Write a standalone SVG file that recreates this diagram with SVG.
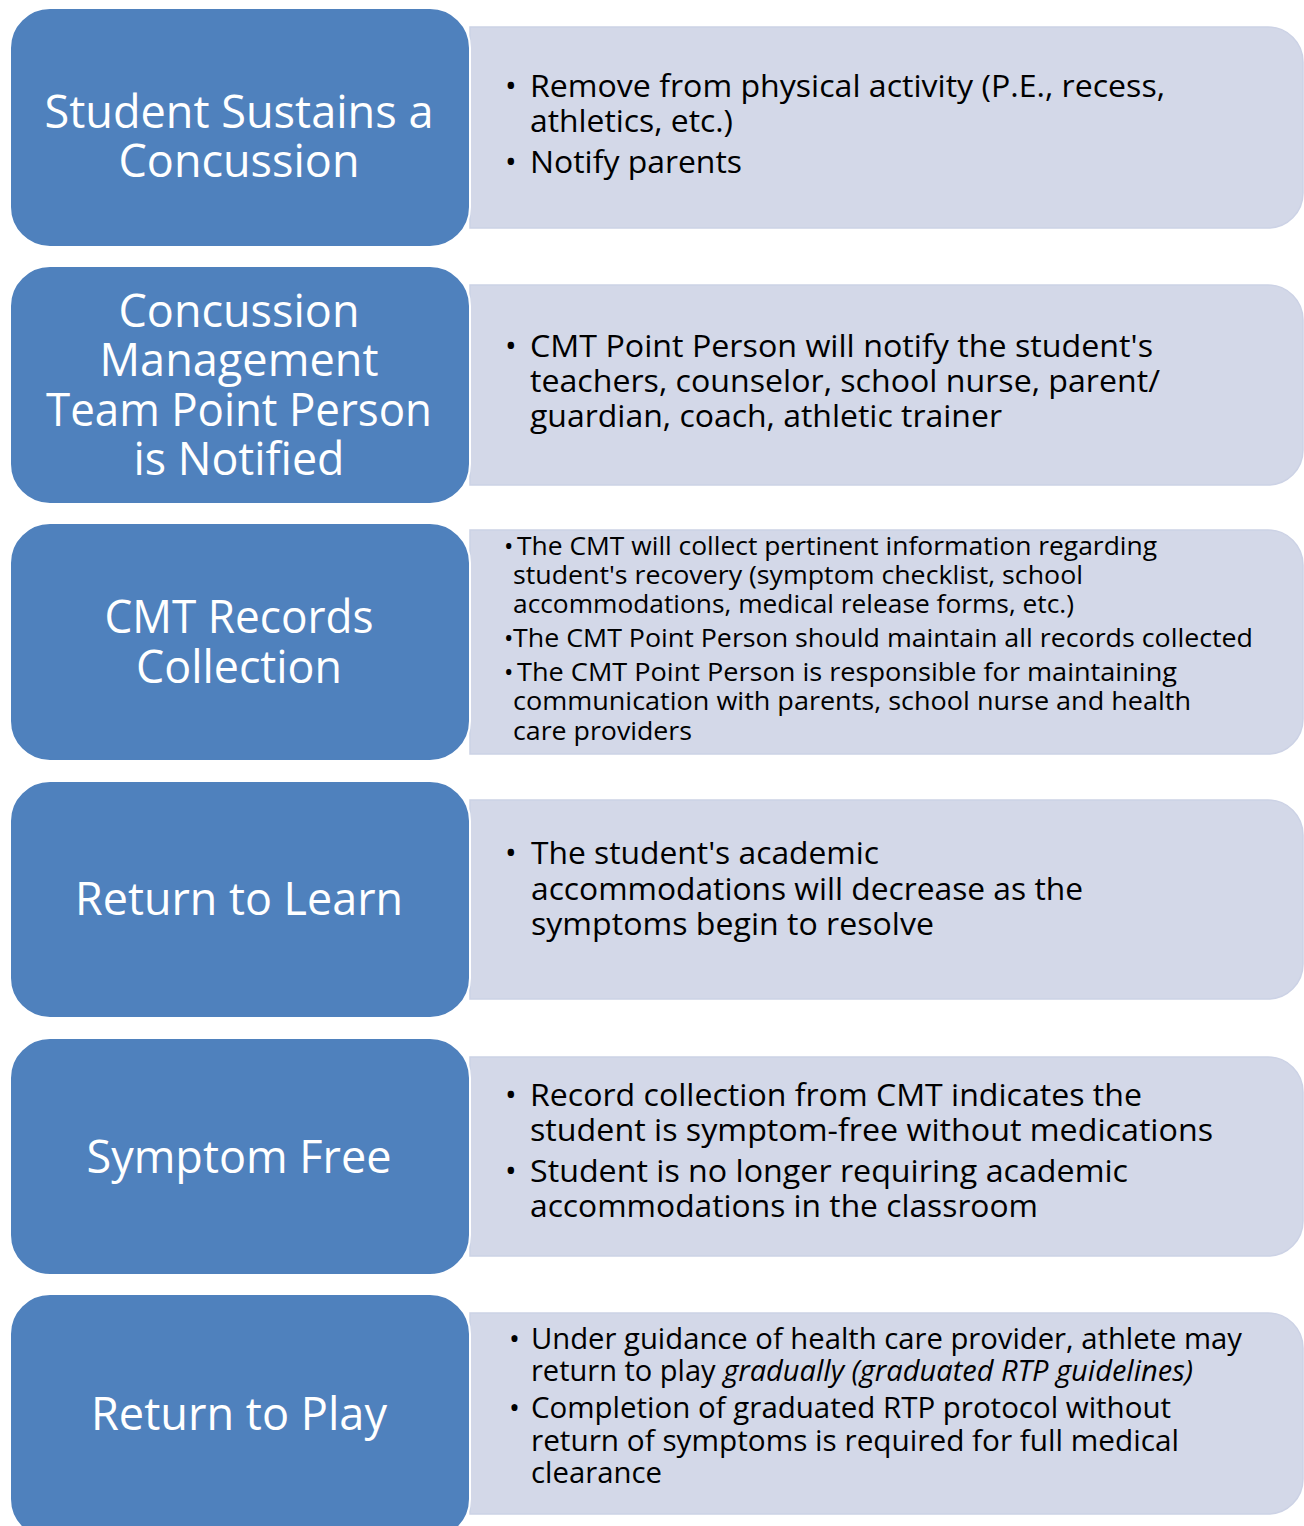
<svg xmlns="http://www.w3.org/2000/svg" width="1304" height="1526" viewBox="0 0 1304 1526">
<style>
.blue{fill:#4F81BD;stroke:#FFFFFF;stroke-width:2}
.light{fill:#D3D8E8;stroke:#CCD2E5;stroke-width:1.5}
.t{font-family:"Open Sans","Liberation Sans",sans-serif;fill:#FFFFFF;font-size:45.5px;text-anchor:middle}
.b{font-family:"Open Sans","Liberation Sans",sans-serif;fill:#000000;font-size:31px}
.s{font-family:"Open Sans","Liberation Sans",sans-serif;fill:#000000;font-size:25px}
.m{font-family:"Open Sans","Liberation Sans",sans-serif;fill:#000000;font-size:29px}
</style>
<rect width="1304" height="1526" fill="#FFFFFF"/>
<g id="connectors"></g>
<g id="row1">
<path class="light" d="M470 27 H1268 A35 35 0 0 1 1303 62 V193 A35 35 0 0 1 1268 228 H470 Z"/>
<rect class="blue" x="10" y="8" width="460" height="239" rx="40"/>
<text class="t" x="239" y="128" textLength="389" lengthAdjust="spacingAndGlyphs">Student Sustains a</text>
<text class="t" x="239" y="177" textLength="241" lengthAdjust="spacingAndGlyphs">Concussion</text>
<text class="b" x="505" y="97">•</text>
<text class="b" x="530" y="97" textLength="635" lengthAdjust="spacingAndGlyphs">Remove from physical activity (P.E., recess,</text>
<text class="b" x="530" y="132" textLength="203" lengthAdjust="spacingAndGlyphs">athletics, etc.)</text>
<text class="b" x="505" y="173">•</text>
<text class="b" x="530" y="173" textLength="212" lengthAdjust="spacingAndGlyphs">Notify parents</text>
</g>
<g id="row2">
<path class="light" d="M470 285 H1268 A35 35 0 0 1 1303 320 V450 A35 35 0 0 1 1268 485 H470 Z"/>
<rect class="blue" x="10" y="266" width="460" height="238" rx="40"/>
<text class="t" x="239" y="327" textLength="241" lengthAdjust="spacingAndGlyphs">Concussion</text>
<text class="t" x="239" y="376" textLength="279" lengthAdjust="spacingAndGlyphs">Management</text>
<text class="t" x="239" y="426" textLength="386" lengthAdjust="spacingAndGlyphs">Team Point Person</text>
<text class="t" x="239" y="475" textLength="211" lengthAdjust="spacingAndGlyphs">is Notified</text>
<text class="b" x="505" y="357">•</text>
<text class="b" x="530" y="357" textLength="623" lengthAdjust="spacingAndGlyphs">CMT Point Person will notify the student's</text>
<text class="b" x="530" y="392" textLength="630" lengthAdjust="spacingAndGlyphs">teachers, counselor, school nurse, parent/</text>
<text class="b" x="530" y="427" textLength="472" lengthAdjust="spacingAndGlyphs">guardian, coach, athletic trainer</text>
</g>
<g id="row3">
<path class="light" d="M470 530 H1268 A35 35 0 0 1 1303 565 V719 A35 35 0 0 1 1268 754 H470 Z"/>
<rect class="blue" x="10" y="523" width="460" height="238" rx="40"/>
<text class="t" x="239" y="633" textLength="269" lengthAdjust="spacingAndGlyphs">CMT Records</text>
<text class="t" x="239" y="683" textLength="206" lengthAdjust="spacingAndGlyphs">Collection</text>
<text class="s" x="504" y="555">•</text>
<text class="s" x="517" y="555" textLength="640" lengthAdjust="spacingAndGlyphs">The CMT will collect pertinent information regarding</text>
<text class="s" x="513" y="584" textLength="570" lengthAdjust="spacingAndGlyphs">student's recovery (symptom checklist, school</text>
<text class="s" x="513" y="613" textLength="561" lengthAdjust="spacingAndGlyphs">accommodations, medical release forms, etc.)</text>
<text class="s" x="504" y="647">•</text>
<text class="s" x="513" y="647" textLength="740" lengthAdjust="spacingAndGlyphs">The CMT Point Person should maintain all records collected</text>
<text class="s" x="504" y="681">•</text>
<text class="s" x="517" y="681" textLength="660" lengthAdjust="spacingAndGlyphs">The CMT Point Person is responsible for maintaining</text>
<text class="s" x="513" y="710" textLength="678" lengthAdjust="spacingAndGlyphs">communication with parents, school nurse and health</text>
<text class="s" x="513" y="740" textLength="179" lengthAdjust="spacingAndGlyphs">care providers</text>
</g>
<g id="row4">
<path class="light" d="M470 800 H1268 A35 35 0 0 1 1303 835 V964 A35 35 0 0 1 1268 999 H470 Z"/>
<rect class="blue" x="10" y="781" width="460" height="237" rx="40"/>
<text class="t" x="239" y="915" textLength="328" lengthAdjust="spacingAndGlyphs">Return to Learn</text>
<text class="b" x="505" y="864">•</text>
<text class="b" x="531" y="864" textLength="348" lengthAdjust="spacingAndGlyphs">The student's academic</text>
<text class="b" x="531" y="900" textLength="552" lengthAdjust="spacingAndGlyphs">accommodations will decrease as the</text>
<text class="b" x="531" y="935" textLength="403" lengthAdjust="spacingAndGlyphs">symptoms begin to resolve</text>
</g>
<g id="row5">
<path class="light" d="M470 1057 H1268 A35 35 0 0 1 1303 1092 V1221 A35 35 0 0 1 1268 1256 H470 Z"/>
<rect class="blue" x="10" y="1038" width="460" height="237" rx="40"/>
<text class="t" x="239" y="1173" textLength="305" lengthAdjust="spacingAndGlyphs">Symptom Free</text>
<text class="b" x="505" y="1106">•</text>
<text class="b" x="530" y="1106" textLength="612" lengthAdjust="spacingAndGlyphs">Record collection from CMT indicates the</text>
<text class="b" x="530" y="1141" textLength="683" lengthAdjust="spacingAndGlyphs">student is symptom-free without medications</text>
<text class="b" x="505" y="1182">•</text>
<text class="b" x="530" y="1182" textLength="598" lengthAdjust="spacingAndGlyphs">Student is no longer requiring academic</text>
<text class="b" x="530" y="1217" textLength="508" lengthAdjust="spacingAndGlyphs">accommodations in the classroom</text>
</g>
<g id="row6">
<path class="light" d="M470 1313 H1268 A35 35 0 0 1 1303 1348 V1479 A35 35 0 0 1 1268 1514 H470 Z"/>
<rect class="blue" x="10" y="1294" width="460" height="245" rx="40"/>
<text class="t" x="239" y="1430" textLength="296" lengthAdjust="spacingAndGlyphs">Return to Play</text>
<text class="m" x="509" y="1349">•</text>
<text class="m" x="531" y="1349" textLength="711" lengthAdjust="spacingAndGlyphs">Under guidance of health care provider, athlete may</text>
<text class="m" x="531" y="1381" textLength="662" lengthAdjust="spacingAndGlyphs">return to play <tspan font-style="italic">gradually (graduated RTP guidelines)</tspan></text>
<text class="m" x="509" y="1418">•</text>
<text class="m" x="531" y="1418" textLength="640" lengthAdjust="spacingAndGlyphs">Completion of graduated RTP protocol without</text>
<text class="m" x="531" y="1451" textLength="648" lengthAdjust="spacingAndGlyphs">return of symptoms is required for full medical</text>
<text class="m" x="531" y="1483" textLength="131" lengthAdjust="spacingAndGlyphs">clearance</text>
</g>
</svg>
